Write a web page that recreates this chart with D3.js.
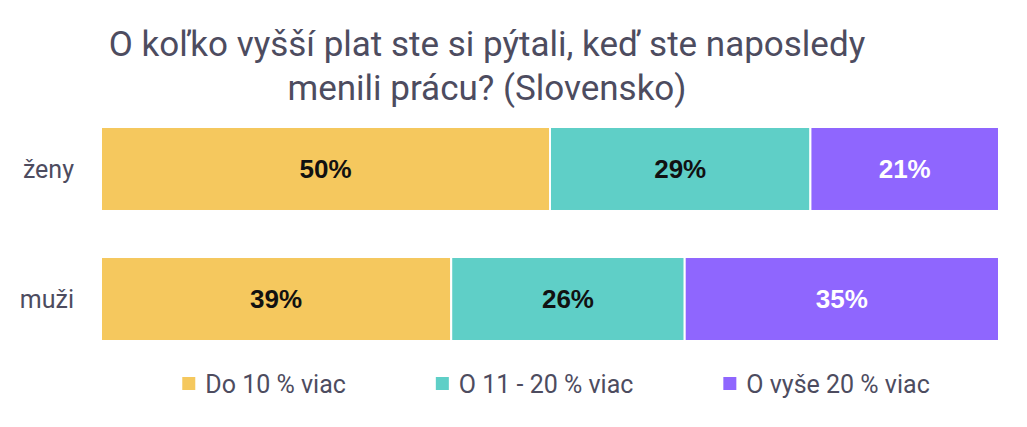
<!DOCTYPE html>
<html>
<head>
<meta charset="utf-8">
<script src="https://cdn.jsdelivr.net/npm/d3@7"></script>
<style>
  body { margin: 0; background: #fff; }
  svg { display: block; }
</style>
</head>
<body>
<svg id="chart" width="1027" height="427"></svg>
<script>
// data
var titleLines = ['O koľko vyšší plat ste si pýtali, keď ste naposledy', 'menili prácu? (Slovensko)'];
var categories = ['ženy', 'muži'];
var seriesNames = ['Do 10 % viac', 'O 11 - 20 % viac', 'O vyše 20 % viac'];
var seriesColors = ['#f5c85e', '#5fcfc7', '#8f66fe'];
var labelColors = ['#111111', '#111111', '#ffffff'];
var zenyValues = [50, 29, 21];
var muziValues = [39, 26, 35];

var svg = d3.select('#chart');
var textColor = '#4d4c5f';
var font = 'Roboto, "Noto Sans", sans-serif';

var x = d3.scaleLinear().domain([0, 100]).range([101, 999]);
var y = d3.scaleBand().domain(categories).range([127, 341]).paddingInner(0.354).paddingOuter(0);

// title
svg.append('g')
  .selectAll('text')
  .data(titleLines)
  .enter()
  .append('text')
  .attr('x', 487)
  .attr('y', function(d, i) { return 56 + i * 44; })
  .attr('text-anchor', 'middle')
  .attr('fill', textColor)
  .style('font-family', font)
  .style('font-size', '35px')
  .text(function(d) { return d; });

// stack rows
var rows = [zenyValues, muziValues].map(function(vals, i) {
  var acc = 0;
  return {
    cat: categories[i],
    segs: vals.map(function(v, j) {
      var s = { start: acc, value: v, idx: j };
      acc += v;
      return s;
    })
  };
});

var rowG = svg.selectAll('g.row')
  .data(rows)
  .enter()
  .append('g')
  .attr('class', 'row')
  .attr('transform', function(d) { return 'translate(0,' + y(d.cat) + ')'; });

rowG.selectAll('rect')
  .data(function(d) { return d.segs; })
  .enter()
  .append('rect')
  .attr('x', function(d) { return x(d.start); })
  .attr('y', 0)
  .attr('width', function(d) { return x(d.start + d.value) - x(d.start); })
  .attr('height', y.bandwidth())
  .attr('fill', function(d) { return seriesColors[d.idx]; })
  .attr('stroke', '#fff')
  .attr('stroke-width', 2);

rowG.selectAll('text.val')
  .data(function(d) { return d.segs; })
  .enter()
  .append('text')
  .attr('class', 'val')
  .attr('x', function(d) { return x(d.start + d.value / 2); })
  .attr('y', y.bandwidth() / 2)
  .attr('dy', '0.35em')
  .attr('text-anchor', 'middle')
  .attr('fill', function(d) { return labelColors[d.idx]; })
  .style('font-family', '"Liberation Sans", Arial, sans-serif')
  .style('font-weight', 'bold')
  .style('font-size', '26px')
  .text(function(d) { return d.value + '%'; });

// category labels
svg.append('g')
  .selectAll('text')
  .data(categories)
  .enter()
  .append('text')
  .attr('x', 74)
  .attr('y', function(d) { return y(d) + y.bandwidth() / 2; })
  .attr('dy', '0.35em')
  .attr('text-anchor', 'end')
  .attr('fill', textColor)
  .style('font-family', font)
  .style('font-size', '25px')
  .text(function(d) { return d; });

// legend
var legend = svg.append('g').attr('transform', 'translate(0,384)');
var items = legend.selectAll('g')
  .data(seriesNames)
  .enter()
  .append('g');

items.append('rect')
  .attr('x', 0)
  .attr('y', -7)
  .attr('width', 13)
  .attr('height', 13)
  .attr('fill', function(d, i) { return seriesColors[i]; });

items.append('text')
  .attr('x', 23)
  .attr('dy', '0.35em')
  .attr('fill', textColor)
  .style('font-family', font)
  .style('font-size', '25px')
  .text(function(d) { return d; });

var gap = 90;
var widths = [];
items.each(function() {
  widths.push(this.getBBox().width);
});
var total = d3.sum(widths) + gap * (widths.length - 1);
var offset = 556 - total / 2;
items.attr('transform', function(d, i) {
  var tx = offset;
  offset += widths[i] + gap;
  return 'translate(' + tx + ',0)';
});
</script>
</body>
</html>
